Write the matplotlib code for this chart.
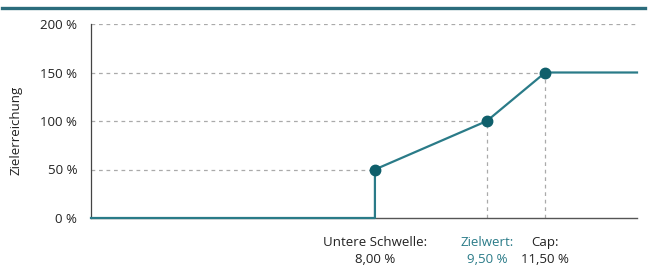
import numpy as np
import matplotlib
matplotlib.use("Agg")
from matplotlib import pyplot as plt
from matplotlib.lines import Line2D

plt.rcParams['font.family'] = ['Open Sans', 'DejaVu Sans']

# key points of the payout curve (x in %, y = Zielerreichung in %)
thresholds = [8.0, 9.5, 11.5]
achievement = [50, 100, 150]
x_start, x_end = 4.0, 14.0
tick_labels = ["Untere Schwelle:\n8,00 %", "Zielwert:\n9,50 %", "Cap:\n11,50 %"]
y_ticks = [0, 50, 100, 150, 200]
y_labels = ["0 %", "50 %", "100 %", "150 %", "200 %"]

teal = "#2a7b88"
dot = "#0f5f6b"
grid = "#aaaaaa"

# schematic (non-linear) x scale, as in the original drawing
anchor_vals = [x_start] + thresholds + [x_end]
anchor_pos = [0.0, 0.520, 0.725, 0.832, 1.0]
fwd = lambda v: np.interp(v, anchor_vals, anchor_pos)
inv = lambda p: np.interp(p, anchor_pos, anchor_vals)

fig = plt.figure(figsize=(6.5, 2.68), dpi=100)
ax = fig.add_axes([91 / 650, 1 - 218 / 268, 546 / 650, 194 / 268])
ax.set_xscale('function', functions=(fwd, inv))
ax.set_xlim(x_start, x_end)
ax.set_ylim(0, 200)

# dashed guide lines
ax.hlines(200, x_start, x_end, colors=grid, linestyles=(0, (3, 3)), lw=0.9)
ax.hlines(achievement, x_start, thresholds, colors=grid, linestyles=(0, (3, 3)), lw=0.9)
ax.vlines(thresholds[1:], 0, achievement[1:], colors=grid, linestyles=(0, (3, 3)), lw=0.9)

xs = [x_start, thresholds[0]] + thresholds + [x_end]
ys = [0, 0] + achievement + [achievement[-1]]
ax.plot(xs, ys, color=teal, lw=1.6, clip_on=False, zorder=3)
ax.plot(thresholds, achievement, 'o', color=dot, ms=7.5, zorder=4, clip_on=False)

for s in ['top', 'right']:
    ax.spines[s].set_visible(False)
ax.spines['left'].set_color('#444444')
ax.spines['bottom'].set_color('#555555')
ax.spines['left'].set_linewidth(0.9)
ax.spines['bottom'].set_linewidth(1.0)

ax.set_yticks(y_ticks, y_labels)
ax.tick_params(axis='y', length=0, pad=10, labelsize=9.5, labelcolor='#222222')
ax.set_xticks(thresholds, tick_labels)
ax.tick_params(axis='x', length=0, pad=13, labelsize=9.5, labelcolor='#222222')
for t in ax.get_xticklabels():
    t.set_linespacing(1.35)
ax.get_xticklabels()[1].set_color(teal)

ax.set_ylabel("Zielerreichung", fontsize=9.5, color='#222222')
ax.yaxis.set_label_coords(-0.125, 0.45)

# top rule
fig.add_artist(Line2D([2 / 650, 645 / 650], [1 - 7.5 / 268] * 2, color="#2b6c7c", lw=2.4,
                      transform=fig.transFigure))

fig.savefig("out.png", dpi=100)
